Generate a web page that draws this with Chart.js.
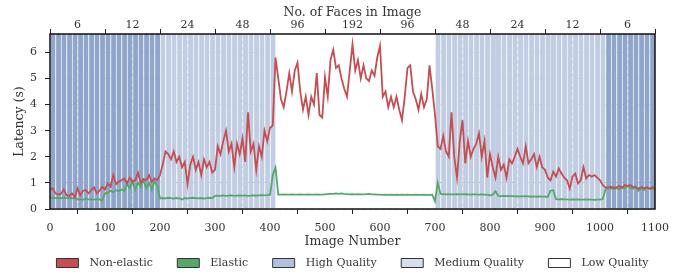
<!DOCTYPE html>
<html lang="en">
<head>
<meta charset="UTF-8">
<title>Latency per image</title>
<script src="https://cdn.jsdelivr.net/npm/chart.js"></script>
<style>
    html, body { margin: 0; padding: 0; background: #fff; }
    #wrap { width: 692px; height: 276px; }
</style>
</head>
<body>
<div id="wrap"><canvas id="chart"></canvas></div>
<script>
// --- data (one value every 5 images) ---
const imageNumbers = Array.from({ length: 221 }, (_, i) => i * 5);

const nonElastic = [
    0.75,0.79,0.6,0.55,0.58,0.75,0.53,0.5,0.6,0.45,0.79,0.53,0.7,0.72,0.6,0.72,0.83,0.6,0.7,0.85,
    0.75,0.98,0.85,1.3,0.95,1.05,1.1,1.17,0.98,1.2,1.05,1.1,1.39,1.0,1.15,1.1,1.3,1.04,1.17,1.1,
    1.3,1.7,2.2,2.1,1.9,2.2,1.8,2.0,1.6,1.8,0.95,1.7,2.0,1.5,1.8,1.3,1.9,1.6,1.8,1.4,
    1.5,2.4,2.1,2.6,3.0,2.2,2.5,1.6,2.5,2.1,2.7,1.8,3.7,2.2,2.5,1.5,2.4,2.0,3.0,2.6,
    3.1,3.2,5.8,5.0,4.2,3.9,4.5,5.2,4.5,5.3,5.6,4.5,3.8,4.3,3.6,4.3,4.0,5.2,3.6,3.5,
    5.05,4.3,5.7,6.1,5.4,5.5,5.0,4.6,4.3,5.3,6.3,5.3,5.7,5.0,5.5,5.0,4.9,5.3,5.1,5.8,
    6.25,4.3,4.5,3.9,4.3,3.9,4.3,3.8,3.4,4.3,5.4,5.5,4.5,4.2,3.8,4.4,3.9,4.2,5.5,4.6,
    3.6,2.4,2.3,2.8,2.2,2.0,3.7,2.0,1.2,2.6,3.4,1.75,2.6,2.0,2.3,2.5,2.9,2.0,2.6,1.2,
    2.1,1.6,1.2,2.0,1.5,1.7,1.2,1.9,1.75,2.0,2.3,2.0,1.75,2.4,1.75,1.9,2.1,1.6,2.0,1.6,
    1.5,1.2,1.1,1.43,1.24,1.55,1.36,1.2,1.1,0.79,1.24,1.36,0.98,1.1,1.6,1.17,1.3,1.24,1.3,1.2,
    1.1,0.92,0.83,0.83,0.85,0.78,0.83,0.88,0.8,0.92,0.88,0.92,0.85,0.83,0.78,0.83,0.8,0.83,0.78,0.83,
    0.8
];

const elastic = [
    0.42,0.44,0.42,0.43,0.41,0.44,0.42,0.43,0.41,0.42,0.37,0.38,0.36,0.39,0.37,0.38,0.36,0.38,0.37,0.32,
    0.6,0.62,0.7,0.65,0.72,0.68,0.75,0.7,0.95,0.8,1.05,0.75,1.0,0.85,1.1,0.8,1.0,0.75,1.05,0.9,
    0.4,0.42,0.41,0.43,0.42,0.4,0.42,0.41,0.36,0.42,0.41,0.42,0.43,0.42,0.41,0.42,0.4,0.42,0.43,0.42,
    0.5,0.51,0.5,0.52,0.5,0.51,0.52,0.5,0.51,0.52,0.51,0.52,0.5,0.51,0.52,0.51,0.52,0.53,0.52,0.53,
    0.55,1.3,1.58,0.55,0.55,0.56,0.55,0.55,0.56,0.55,0.55,0.56,0.55,0.55,0.56,0.55,0.55,0.56,0.55,0.55,
    0.56,0.57,0.58,0.58,0.6,0.58,0.6,0.58,0.57,0.56,0.57,0.56,0.57,0.56,0.56,0.57,0.58,0.56,0.56,0.55,
    0.55,0.54,0.55,0.54,0.55,0.54,0.55,0.54,0.55,0.54,0.55,0.54,0.54,0.55,0.54,0.54,0.55,0.54,0.54,0.55,
    0.3,1.0,0.58,0.57,0.56,0.57,0.56,0.56,0.57,0.56,0.56,0.57,0.56,0.55,0.56,0.56,0.55,0.56,0.55,0.55,
    0.52,0.55,0.68,0.5,0.49,0.5,0.49,0.5,0.49,0.48,0.49,0.48,0.48,0.49,0.48,0.47,0.48,0.47,0.48,0.47,
    0.47,0.46,0.7,0.72,0.38,0.37,0.38,0.37,0.37,0.36,0.37,0.36,0.37,0.36,0.36,0.37,0.36,0.36,0.35,0.36,
    0.36,0.38,0.75,0.82,0.78,0.85,0.8,0.75,0.85,0.8,0.88,0.82,0.78,0.85,0.7,0.8,0.72,0.82,0.78,0.76,
    0.78
];

// quality regions as [first image, last image]
const highQualityRanges = [[0, 200], [1010, 1100]];
const mediumQualityRanges = [[200, 410], [700, 1010]];
const lowQualityRanges = [[410, 700]];
const highQualitySingles = [811, 912];

// top axis labels, one per block of 100 images
const facesPerImage = ['6', '12', '24', '48', '96', '192', '96', '48', '24', '12', '6'];

const yMax = 6.7;
const barWidth = 10;

// --- build library data ---
const toPoints = vals => vals.map((v, i) => ({ x: imageNumbers[i], y: v }));
const toBars = ranges => {
    const out = [];
    ranges.forEach(([a, b]) => {
        for (let s = a; s < b; s += barWidth) out.push({ x: s + barWidth / 2, y: yMax });
    });
    return out;
};

const legendFill = {
    'Non-elastic': '#c44e52',
    'Elastic': '#55a868',
    'High Quality': '#b0c1dd',
    'Medium Quality': '#d6dfee',
    'Low Quality': '#ffffff'
};

Chart.defaults.font.family = "'DejaVu Serif', serif";
Chart.defaults.font.size = 11;
Chart.defaults.color = '#333';

const barCommon = {
    type: 'bar',
    grouped: false,
    barPercentage: 1,
    categoryPercentage: 1,
    borderColor: 'rgba(255,255,255,0.55)',
    borderWidth: { left: 1, right: 0, top: 0, bottom: 0 },
    borderSkipped: false
};

// black frame round the plot
const framePlugin = {
    id: 'frame',
    afterDraw(chart) {
        const { ctx, chartArea: a } = chart;
        ctx.save();
        ctx.strokeStyle = '#111';
        ctx.lineWidth = 1.5;
        ctx.strokeRect(a.left, a.top, a.right - a.left, a.bottom - a.top);
        ctx.restore();
    }
};

// centre the legend under the plot area rather than the canvas
const legendCenter = {
    id: 'legendCenter',
    afterLayout(chart) {
        const lg = chart.legend, a = chart.chartArea;
        if (!lg) return;
        const shift = (a.left + a.right) / 2 - (lg.left + lg.right) / 2;
        lg.left += shift;
        lg.right += shift;
    }
};

const keepIntegers = axis => { axis.ticks = axis.ticks.filter(t => Number.isInteger(t.value)); };
const EN = '\u2002';

new Chart(document.getElementById('chart'), {
    type: 'line',
    data: {
        datasets: [
            { label: 'Non-elastic', data: toPoints(nonElastic), borderColor: '#c44e52', backgroundColor: '#c44e52',
              borderWidth: 1.8, pointRadius: 0, tension: 0 },
            { label: 'Elastic', data: toPoints(elastic), borderColor: '#55a868', backgroundColor: '#55a868',
              borderWidth: 1.8, pointRadius: 0, tension: 0 },
            { ...barCommon, label: 'High Quality', data: toBars(highQualityRanges), backgroundColor: '#8fa5cb' },
            { ...barCommon, label: 'Medium Quality', data: toBars(mediumQualityRanges), backgroundColor: '#c1cde3' },
            { ...barCommon, label: 'Low Quality', data: toBars(lowQualityRanges), backgroundColor: '#ffffff', borderWidth: 0 },
            { type: 'bar', label: 'marks', xAxisID: 'xMarks', grouped: false, barThickness: 1.5,
              data: highQualitySingles.map(x => ({ x, y: yMax })), backgroundColor: '#8fa5cb' }
        ]
    },
    options: {
        responsive: true,
        maintainAspectRatio: false,
        animation: false,
        layout: { padding: { left: 12.5, right: 37, top: 5, bottom: -2.5 } },
        plugins: {
            tooltip: { enabled: false },
            legend: {
                position: 'bottom',
                labels: {
                    boxWidth: 22,
                    boxHeight: 9,
                    padding: 8,
                    color: '#333',
                    font: { size: 11 },
                    filter: item => item.datasetIndex !== 5,
                    generateLabels(chart) {
                        const items = Chart.defaults.plugins.legend.labels.generateLabels(chart);
                        return items.map(it => {
                            const name = chart.data.datasets[it.datasetIndex].label;
                            const tail = name === 'Low Quality' ? '' : EN + EN + EN;
                            return Object.assign(it, {
                                text: EN + name + tail,
                                fillStyle: legendFill[name] || it.fillStyle,
                                strokeStyle: '#333',
                                lineWidth: 1,
                                lineDash: []
                            });
                        });
                    }
                }
            }
        },
        scales: {
            x: {
                type: 'linear', min: 0, max: 1100, offset: false, z: 1,
                afterFit: axis => { axis.height = 40.5; },
                ticks: { stepSize: 100, maxRotation: 0, padding: 8, callback: v => String(v) },
                grid: {
                    color: 'rgba(150,150,150,0.5)', lineWidth: 1,
                    tickLength: 5, tickColor: '#222', tickWidth: 1
                },
                border: { display: false, dash: [4, 2.5] },
                title: { display: true, text: 'Image Number', font: { size: 12.5 }, padding: { top: 0, bottom: 0 } }
            },
            xTop: {
                type: 'linear', position: 'top', min: 0, max: 1100, offset: false,
                afterBuildTicks: axis => {
                    const t = [];
                    for (let v = 0; v <= 1100; v += 50) t.push({ value: v });
                    axis.ticks = t;
                },
                ticks: {
                    autoSkip: false, maxRotation: 0, padding: -3.1,
                    callback: v => (v % 100 === 50 ? facesPerImage[Math.floor(v / 100)] : '')
                },
                grid: {
                    drawOnChartArea: false, tickLength: 5, tickWidth: 1,
                    tickColor: ctx => (ctx.tick && ctx.tick.value % 100 === 0 ? '#222' : 'rgba(0,0,0,0)')
                },
                border: { display: false },
                title: { display: true, text: 'No. of Faces in Image', font: { size: 12.5 }, padding: { top: 0, bottom: 2 } }
            },
            xMarks: { type: 'linear', display: false, min: 0, max: 1100, offset: false },
            y: {
                min: 0, max: yMax, z: 1,
                afterBuildTicks: keepIntegers,
                afterFit: axis => { axis.width = 37.5; },
                ticks: { stepSize: 1, padding: 8 },
                grid: {
                    color: ctx => (ctx.tick && ctx.tick.value === 1 ? 'rgba(80,80,80,0.85)' : 'rgba(150,150,150,0.5)'),
                    lineWidth: 1, tickLength: 5, tickColor: '#222', tickWidth: 1
                },
                border: { display: false, dash: [4, 2.5] },
                title: { display: true, text: 'Latency (s)', font: { size: 12.5 }, padding: { top: 0, bottom: 0 } }
            }
        }
    },
    plugins: [framePlugin, legendCenter]
});
</script>
</body>
</html>
